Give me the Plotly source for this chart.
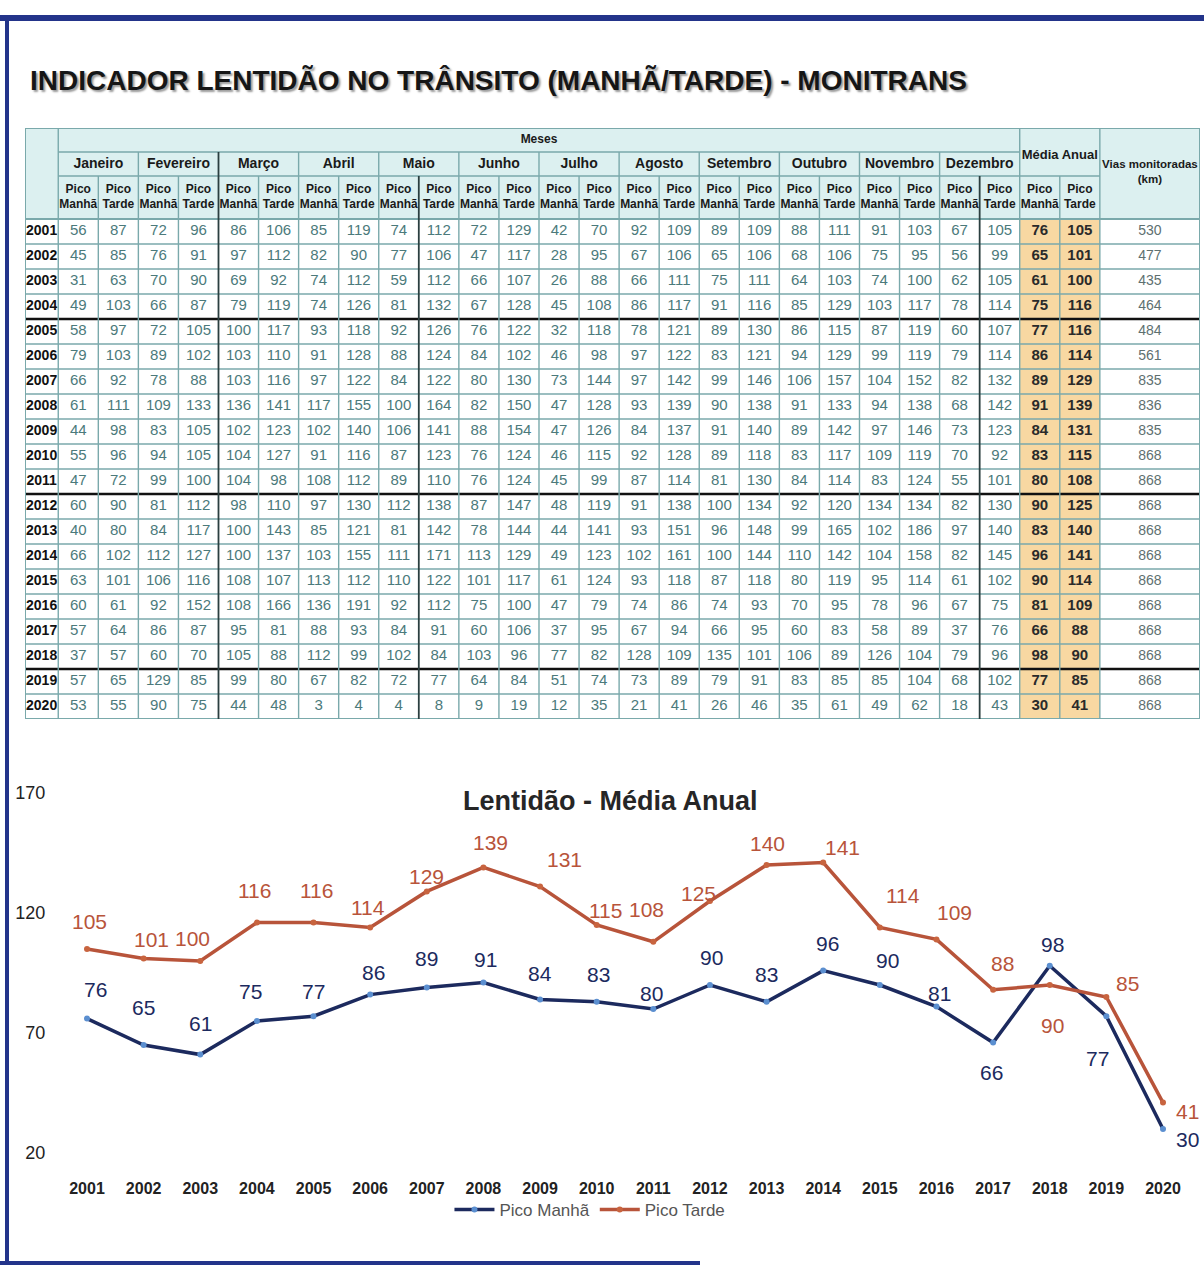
import plotly.graph_objects as go

# ---------------- DATA ----------------
years = list(range(2001, 2021))
months = ["Janeiro", "Fevereiro", "Março", "Abril", "Maio", "Junho", "Julho",
          "Agosto", "Setembro", "Outubro", "Novembro", "Dezembro"]

# per year: Jan M, Jan T, Fev M, Fev T, ... Dez M, Dez T
v2001 = [56, 87, 72, 96, 86, 106, 85, 119, 74, 112, 72, 129, 42, 70, 92, 109, 89, 109, 88, 111, 91, 103, 67, 105]
v2002 = [45, 85, 76, 91, 97, 112, 82, 90, 77, 106, 47, 117, 28, 95, 67, 106, 65, 106, 68, 106, 75, 95, 56, 99]
v2003 = [31, 63, 70, 90, 69, 92, 74, 112, 59, 112, 66, 107, 26, 88, 66, 111, 75, 111, 64, 103, 74, 100, 62, 105]
v2004 = [49, 103, 66, 87, 79, 119, 74, 126, 81, 132, 67, 128, 45, 108, 86, 117, 91, 116, 85, 129, 103, 117, 78, 114]
v2005 = [58, 97, 72, 105, 100, 117, 93, 118, 92, 126, 76, 122, 32, 118, 78, 121, 89, 130, 86, 115, 87, 119, 60, 107]
v2006 = [79, 103, 89, 102, 103, 110, 91, 128, 88, 124, 84, 102, 46, 98, 97, 122, 83, 121, 94, 129, 99, 119, 79, 114]
v2007 = [66, 92, 78, 88, 103, 116, 97, 122, 84, 122, 80, 130, 73, 144, 97, 142, 99, 146, 106, 157, 104, 152, 82, 132]
v2008 = [61, 111, 109, 133, 136, 141, 117, 155, 100, 164, 82, 150, 47, 128, 93, 139, 90, 138, 91, 133, 94, 138, 68, 142]
v2009 = [44, 98, 83, 105, 102, 123, 102, 140, 106, 141, 88, 154, 47, 126, 84, 137, 91, 140, 89, 142, 97, 146, 73, 123]
v2010 = [55, 96, 94, 105, 104, 127, 91, 116, 87, 123, 76, 124, 46, 115, 92, 128, 89, 118, 83, 117, 109, 119, 70, 92]
v2011 = [47, 72, 99, 100, 104, 98, 108, 112, 89, 110, 76, 124, 45, 99, 87, 114, 81, 130, 84, 114, 83, 124, 55, 101]
v2012 = [60, 90, 81, 112, 98, 110, 97, 130, 112, 138, 87, 147, 48, 119, 91, 138, 100, 134, 92, 120, 134, 134, 82, 130]
v2013 = [40, 80, 84, 117, 100, 143, 85, 121, 81, 142, 78, 144, 44, 141, 93, 151, 96, 148, 99, 165, 102, 186, 97, 140]
v2014 = [66, 102, 112, 127, 100, 137, 103, 155, 111, 171, 113, 129, 49, 123, 102, 161, 100, 144, 110, 142, 104, 158, 82, 145]
v2015 = [63, 101, 106, 116, 108, 107, 113, 112, 110, 122, 101, 117, 61, 124, 93, 118, 87, 118, 80, 119, 95, 114, 61, 102]
v2016 = [60, 61, 92, 152, 108, 166, 136, 191, 92, 112, 75, 100, 47, 79, 74, 86, 74, 93, 70, 95, 78, 96, 67, 75]
v2017 = [57, 64, 86, 87, 95, 81, 88, 93, 84, 91, 60, 106, 37, 95, 67, 94, 66, 95, 60, 83, 58, 89, 37, 76]
v2018 = [37, 57, 60, 70, 105, 88, 112, 99, 102, 84, 103, 96, 77, 82, 128, 109, 135, 101, 106, 89, 126, 104, 79, 96]
v2019 = [57, 65, 129, 85, 99, 80, 67, 82, 72, 77, 64, 84, 51, 74, 73, 89, 79, 91, 83, 85, 85, 104, 68, 102]
v2020 = [53, 55, 90, 75, 44, 48, 3, 4, 4, 8, 9, 19, 12, 35, 21, 41, 26, 46, 35, 61, 49, 62, 18, 43]
monthly = [v2001, v2002, v2003, v2004, v2005, v2006, v2007, v2008, v2009, v2010,
           v2011, v2012, v2013, v2014, v2015, v2016, v2017, v2018, v2019, v2020]

media_manha = [76, 65, 61, 75, 77, 86, 89, 91, 84, 83, 80, 90, 83, 96, 90, 81, 66, 98, 77, 30]
media_tarde = [105, 101, 100, 116, 116, 114, 129, 139, 131, 115, 108, 125, 140, 141, 114, 109, 88, 90, 85, 41]
vias_km = [530, 477, 435, 464, 484, 561, 835, 836, 835, 868, 868, 868, 868, 868, 868, 868, 868, 868, 868, 868]

y_ticks = [20, 70, 120, 170]

# ---------------- STYLE ----------------
FONT = "Liberation Sans, Arial, sans-serif"
NAVY = "#1c2a5e"
RUST = "#b8543a"
GRID = "#7aa9ab"
HDR = "#dcf0f0"
ORANGE = "#f8d8a2"
NUM = "#4b7a7b"
FRAME = "#23348a"
W, H = 1204, 1268

# label offsets (px) for chart data labels
man_dx = [8, 0, 0, -6, 0, 3, 0, 2, 0, 2, -2, 2, 0, 4, 8, 3, -2, 3, -9, 24]
man_dy = [29, 38, 31, 30, 25, 22, 29, 23, 26, 27, 16, 28, 27, 27, 25, 13, -30, 21, -42, -10]
tar_dx = [2, 8, -8, -2, 3, -2, 0, 7, 24, 9, -7, -11, 1, 19, 23, 18, 9, 3, 21, 24]
tar_dy = [28, 19, 23, 32, 32, 20, 15, 25, 27, 15, 32, 8, 22, 15, 32, 27, 26, -40, 14, -9]

fig = go.Figure()

# ---------------- TABLE GEOMETRY (axis units) ----------------
yw = 0.83                          # year column width
col_edges = [0, yw] + [yw + i + 1 for i in range(26)] + [yw + 26 + 2.5]
TW = col_edges[-1]
r1, r2, r3 = 0.96, 1.92, 3.64      # header row edges
row_edges = [r3 + i for i in range(21)]
TH = row_edges[-1]

def cx(j):
    return (col_edges[j] + col_edges[j + 1]) / 2

def ry(i):
    return r3 + i + 0.5

shapes = []

def rect(x0, y0, x1, y1, fill):
    shapes.append(dict(type="rect", xref="x2", yref="y2", x0=x0, x1=x1, y0=y0, y1=y1,
                       fillcolor=fill, line=dict(width=0), layer="below"))

def line(x0, y0, x1, y1, color=GRID, width=1.4):
    shapes.append(dict(type="line", xref="x2", yref="y2", x0=x0, x1=x1, y0=y0, y1=y1,
                       line=dict(color=color, width=width), layer="above"))

# fills
rect(0, 0, TW, r3, HDR)
rect(col_edges[25], r3, col_edges[27], TH, ORANGE)

# horizontal lines
line(0, 0, TW, 0, GRID, 2)
line(yw, r1, col_edges[25], r1)
line(yw, r2, col_edges[27], r2)
for k, yv in enumerate(row_edges):
    line(0, yv, TW, yv, GRID, 2.2 if k in (0, 20) else 1.4)
for k in (4, 11, 18):
    line(0, row_edges[k], TW, row_edges[k], "#111111", 2.6)

# vertical lines
line(0, 0, 0, TH, GRID, 2)
line(TW, 0, TW, TH, GRID, 2)
for j in range(1, 28):
    xe = col_edges[j]
    if j == 1 or j in (25, 27):
        y0 = 0
    elif (j - 1) % 2 == 0:
        y0 = r1
    else:
        y0 = r2
    if j == 26:
        y0 = r2
    dark = j in (5, 10, 24)
    line(xe, y0, xe, TH, "#2b3f40" if dark else GRID, 1.8 if dark else 1.4)

# ---------------- TABLE TEXT ----------------
def text_trace(xs, ys, texts, size, color, bold=False):
    if bold:
        texts = ["<b>%s</b>" % t for t in texts]
    fig.add_trace(go.Scatter(x=xs, y=ys, text=texts, mode="text", xaxis="x2", yaxis="y2",
                             textfont=dict(family=FONT, size=size, color=color),
                             textposition="middle center", hoverinfo="skip", showlegend=False))

# headers
text_trace([(col_edges[1] + col_edges[25]) / 2], [r1 / 2], ["Meses"], 12, "#1a1a1a", True)
text_trace([(col_edges[1 + 2 * m] + col_edges[3 + 2 * m]) / 2 for m in range(12)],
           [(r1 + r2) / 2] * 12, months, 14, "#1a1a1a", True)
text_trace([cx(j) for j in range(1, 27)], [(r2 + r3) / 2] * 26,
           ["Pico<br>Manhã" if j % 2 == 1 else "Pico<br>Tarde" for j in range(1, 27)],
           12, "#1a1a1a", True)
text_trace([(col_edges[25] + col_edges[27]) / 2], [r2 / 2 + 0.15], ["Média Anual"], 13, "#1a1a1a", True)
text_trace([cx(27)], [r3 / 2 - 0.05], ["Vias monitoradas<br>(km)"], 11.5, "#1a1a1a", True)

# year labels
text_trace([cx(0)] * 20, [ry(i) for i in range(20)], [str(y) for y in years], 14, "#111111", True)
# monthly values
xs, ys, ts = [], [], []
for i, row in enumerate(monthly):
    for j, v in enumerate(row):
        xs.append(cx(j + 1)); ys.append(ry(i)); ts.append(str(v))
text_trace(xs, ys, ts, 15, NUM)
# annual means
text_trace([cx(25)] * 20, [ry(i) for i in range(20)], [str(v) for v in media_manha], 15, "#2a2a2a", True)
text_trace([cx(26)] * 20, [ry(i) for i in range(20)], [str(v) for v in media_tarde], 15, "#2a2a2a", True)
# vias
text_trace([cx(27)] * 20, [ry(i) for i in range(20)], [str(v) for v in vias_km], 14, "#5e7070")

# ---------------- LINE CHART ----------------
fig.add_trace(go.Scatter(x=years, y=media_manha, name="Pico Manhã", mode="lines+markers",
                         line=dict(color=NAVY, width=3.5),
                         marker=dict(size=6, color="#5b8fd0"), hoverinfo="x+y"))
fig.add_trace(go.Scatter(x=years, y=media_tarde, name="Pico Tarde", mode="lines+markers",
                         line=dict(color=RUST, width=3.5),
                         marker=dict(size=6, color="#c8643f"), hoverinfo="x+y"))

annotations = []
for i, y in enumerate(years):
    annotations.append(dict(x=y, y=media_manha[i], xref="x", yref="y", text=str(media_manha[i]),
                            showarrow=False, xshift=man_dx[i], yshift=man_dy[i],
                            font=dict(family=FONT, size=21, color=NAVY)))
    annotations.append(dict(x=y, y=media_tarde[i], xref="x", yref="y", text=str(media_tarde[i]),
                            showarrow=False, xshift=tar_dx[i], yshift=tar_dy[i],
                            font=dict(family=FONT, size=21, color=RUST)))

# titles
annotations.append(dict(x=28 / W, y=1 - 80 / H, xref="paper", yref="paper", xanchor="left",
                        yanchor="middle", showarrow=False,
                        text="<b>INDICADOR LENTIDÃO NO TRÂNSITO (MANHÃ/TARDE) - MONITRANS</b>",
                        font=dict(family=FONT, size=28, color="#161616",
                                  shadow="2px 2px 2px #9a9a9a")))
annotations.append(dict(x=610 / W, y=1 - 801 / H, xref="paper", yref="paper", xanchor="center",
                        yanchor="middle", showarrow=False, text="<b>Lentidão - Média Anual</b>",
                        font=dict(family=FONT, size=27, color="#262626")))

# page frame (top, left, bottom)
for (fx0, fy0, fx1, fy1, fw) in [(0, 18, W, 18, 6), (7, 18, 7, 1263, 4), (0, 1263, 700, 1263, 4)]:
    shapes.append(dict(type="line", xref="paper", yref="paper", x0=fx0 / W, x1=fx1 / W,
                       y0=1 - fy0 / H, y1=1 - fy1 / H, line=dict(color=FRAME, width=fw),
                       layer="below"))

x_lo, x_hi = 60, 1190
px_per_year = (1163 - 87) / 19
fig.update_layout(
    width=W, height=H, margin=dict(l=0, r=0, t=0, b=0, autoexpand=False),
    paper_bgcolor="white", plot_bgcolor="rgba(0,0,0,0)",
    font=dict(family=FONT),
    shapes=shapes, annotations=annotations,
    xaxis=dict(domain=[x_lo / W, x_hi / W],
               range=[2001 - (87 - x_lo) / px_per_year, 2020 + (x_hi - 1163) / px_per_year],
               tickvals=years, ticktext=["<b>%d</b>" % y for y in years],
               tickfont=dict(family=FONT, size=16, color="#222222"),
               ticks="outside", ticklen=21, tickcolor="rgba(0,0,0,0)",
               showgrid=False, zeroline=False, showline=False, fixedrange=True),
    yaxis=dict(domain=[1 - 1153 / H, 1 - 793 / H], range=[20, 170], tickvals=y_ticks,
               tickfont=dict(family=FONT, size=18, color="#222222"),
               ticks="outside", ticklen=10, tickcolor="rgba(0,0,0,0)",
               showgrid=False, zeroline=False, showline=False, fixedrange=True),
    xaxis2=dict(domain=[25 / W, 1200 / W], range=[0, TW], visible=False, fixedrange=True),
    yaxis2=dict(domain=[1 - 719 / H, 1 - 128 / H], range=[TH, 0], visible=False, fixedrange=True),
    legend=dict(orientation="h", x=0.49, y=1 - 1210 / H, xanchor="center", yanchor="middle",
                font=dict(family=FONT, size=17, color="#555555"), itemwidth=40,
                bgcolor="rgba(0,0,0,0)"),
    hovermode="closest",
)

fig.write_html("out.html", config={"displayModeBar": False},
               post_script="document.body.style.margin='0px';document.body.style.overflow='hidden';")
